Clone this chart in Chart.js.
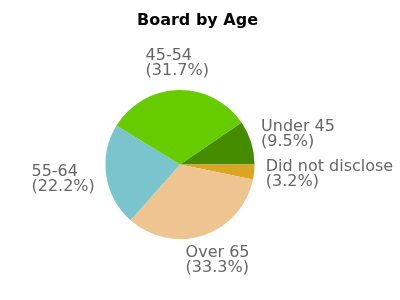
<!DOCTYPE html>
<html>
<head>
<meta charset="utf-8">
<script src="https://cdn.jsdelivr.net/npm/chart.js@4"></script>
<style>
  html, body { margin: 0; padding: 0; background: #fff; }
  #wrap { width: 400px; height: 300px; }
</style>
</head>
<body>
<div id="wrap"><canvas id="ages"></canvas></div>
<script>
// datos del gráfico
const categorias = ["Under 45", "Did not disclose", "Over 65", "55-64", "45-54"];
const porcentajes = [9.5, 3.2, 33.3, 22.2, 31.7];
const colores = ["#458B00", "#DAA520", "#EEC591", "#7AC5CD", "#66CC00"];
const titulo = "Board by Age";

const total = porcentajes.reduce((a, b) => a + b, 0);
// el primer trozo termina justo a las 3 en punto
const giro = 90 - 360 * porcentajes[0] / total;

// titulo y etiquetas fuera del pastel
const etiquetas = {
    id: "etiquetas",
    afterDatasetsDraw(chart) {
        const ctx = chart.ctx;
        const meta = chart.getDatasetMeta(0);
        ctx.save();
        ctx.textBaseline = "middle";
        ctx.textAlign = "left";

        ctx.fillStyle = "#000";
        ctx.font = "bold 16px 'DejaVu Sans'";
        ctx.textAlign = "center";
        ctx.fillText(titulo, chart.width / 2 - 2.5, 21);

        ctx.textAlign = "left";
        ctx.font = "16px 'DejaVu Sans'";
        ctx.fillStyle = "#666";
        const alto = 15;
        meta.data.forEach((arc, i) => {
            const p = arc.getProps(["x", "y", "startAngle", "endAngle", "outerRadius"], true);
            const medio = (p.startAngle + p.endAngle) / 2;
            const c = Math.cos(medio), s = Math.sin(medio);
            const ax = p.x + (p.outerRadius + 12) * c;
            const ay = p.y + (p.outerRadius + 12) * s;
            const lineas = [categorias[i], "(" + porcentajes[i].toFixed(1) + "%)"];
            const ancho = Math.max(...lineas.map(l => ctx.measureText(l).width));
            const x = ax - ancho * (1 - c) / 2;
            const cy = ay + s * alto;
            ctx.fillText(lineas[0], x, cy - alto / 2);
            ctx.fillText(lineas[1], x, cy + alto / 2);
        });
        ctx.restore();
    }
};

new Chart(document.getElementById("ages").getContext("2d"), {
    type: "pie",
    data: {
        labels: categorias,
        datasets: [
            {
                data: porcentajes,
                backgroundColor: colores,
                borderWidth: 0
            }
        ]
    },
    options: {
        responsive: true,
        maintainAspectRatio: false,
        animation: false,
        rotation: giro,
        layout: {
            padding: { left: 105.5, right: 145.5, top: 90, bottom: 61 }
        },
        plugins: {
            legend: { display: false },
            title: { display: false },
            tooltip: { enabled: false }
        }
    },
    plugins: [etiquetas]
});
</script>
</body>
</html>
